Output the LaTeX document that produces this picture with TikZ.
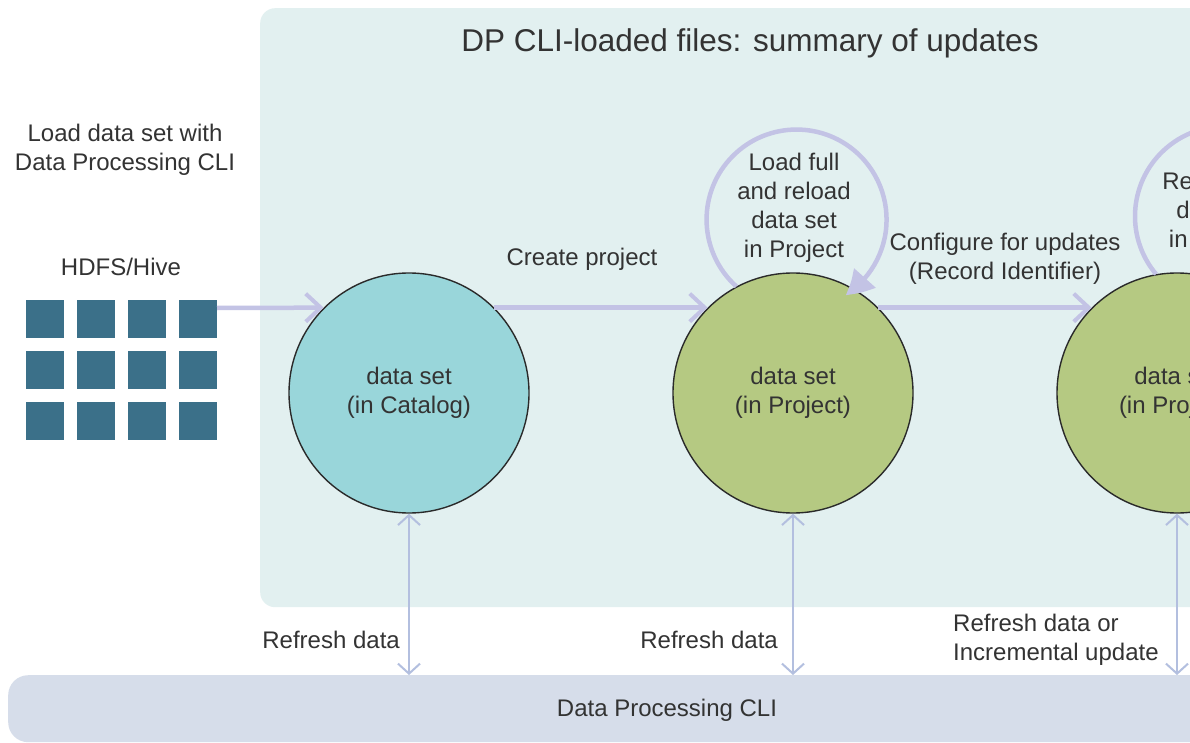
\documentclass[tikz,border=0pt]{standalone}
\usepackage{fontspec}
\setmainfont{Liberation Sans}
\usetikzlibrary{arrows.meta,bending}
\definecolor{txt}{HTML}{333333}
\definecolor{panelc}{HTML}{E2F0F0}
\definecolor{barc}{HTML}{D6DDEA}
\definecolor{catc}{HTML}{99D6DA}
\definecolor{projc}{HTML}{B5C982}
\definecolor{sqc}{HTML}{3B7089}
\definecolor{arrc}{HTML}{C3C3E5}
\definecolor{thinc}{HTML}{B3BFDF}
\definecolor{circc}{HTML}{2A2A2A}
\tikzset{
  lbl/.style={text=txt, font=\fontsize{24}{29}\selectfont, align=center, inner sep=0pt},
  ttl/.style={text=txt, font=\fontsize{31.5}{36}\selectfont, inner sep=0pt},
  sqbox/.style={fill=sqc, minimum size=38pt, inner sep=0pt},
  dsnode/.style={circle, draw=circc, line width=1.4pt, minimum size=240pt, inner sep=0pt,
     text=txt, font=\fontsize{24}{29}\selectfont, align=center},
  mainarrow/.style={draw=arrc, line width=4.5pt, -{Straight Barb[length=15pt,width=28pt,line width=4pt]}},
  looparrow/.style={draw=arrc, line width=4.5pt, -{Triangle[length=26pt,width=28pt,bend]}},
  thinarrow/.style={draw=thinc, line width=2pt,
     {Straight Barb[length=10pt,width=22pt]}-{Straight Barb[length=10pt,width=22pt]}},
}
\begin{document}
\begin{tikzpicture}[x=1pt,y=1pt]
\useasboundingbox (0,0) rectangle (1190,-743);
\clip (0,0) rectangle (1190,-743);
\fill[white] (0,0) rectangle (1190,-743);

% background panel and bottom bar
\node[fill=panelc, rounded corners=15pt, anchor=north west, minimum width=1100pt,
      minimum height=599pt, inner sep=0pt] (panel) at (260,-8) {};
\node[fill=barc, rounded corners=20pt, anchor=north west, minimum width=1400pt,
      minimum height=67pt, inner sep=0pt] (bar) at (8,-675) {};

% title
\node[ttl] (title) at (750,-43) {DP CLI-loaded files: summary of updates};

% left labels and grid
\node[lbl] (loadlbl) at (125,-150) {Load data set with\\Data Processing CLI};
\node[lbl] (hdfs) at (121,-267) {HDFS/Hive};
\foreach \i in {0,...,3}{
  \foreach \j in {0,1,2}{
    \node[sqbox] (s-\i-\j) at ({44.5+51.2*\i},{-(318.5+51.3*\j)}) {};
  }
}
\coordinate (gout) at (217,-308);

% data set circles
\node[dsnode, fill=catc]  (c1) at (409,-393) {data set\\(in Catalog)};
\node[dsnode, fill=projc] (c2) at (793,-393) {data set\\(in Project)};
\node[dsnode, fill=projc] (c3) at (1177,-393) {data set\\(in Project)};

% main arrows
\draw[mainarrow] (gout) -- (c1.135);
\draw[mainarrow] (c1.45) -- (c2.135);
\draw[mainarrow] (c2.45) -- (c3.135);
\node[lbl] (create) at (582,-259) {Create project};
\node[lbl] (config) at (1005,-259) {Configure for updates\\(Record Identifier)};

% loops
\draw[looparrow] (c2.118) arc[start angle=228, end angle=-57, radius=90];
\node[lbl] (loop2) at (794,-208) {Load full\\and reload\\data set\\in Project};
\draw[looparrow] (c3.100) arc[start angle=220, end angle=-54, radius=90];
\node[lbl] (loop3) at (1219,-212) {Reload full\\data set\\in Project};

% vertical refresh arrows
\coordinate (b1) at (c1.south |- bar.north);
\coordinate (b2) at (c2.south |- bar.north);
\coordinate (b3) at (c3.south |- bar.north);
\draw[thinarrow] (c1.south) -- (b1);
\draw[thinarrow] (c2.south) -- (b2);
\draw[thinarrow] (c3.south) -- (b3);
\node[lbl, anchor=east] (r1) at (400,-640) {Refresh data};
\node[lbl, anchor=east] (r2) at (778,-640) {Refresh data};
\node[lbl, anchor=west, align=left] (r3) at (953,-640) {Refresh data or\\Incremental update};

\node[lbl] (cli) at (667,-710) {Data Processing CLI};
\end{tikzpicture}
\end{document}
